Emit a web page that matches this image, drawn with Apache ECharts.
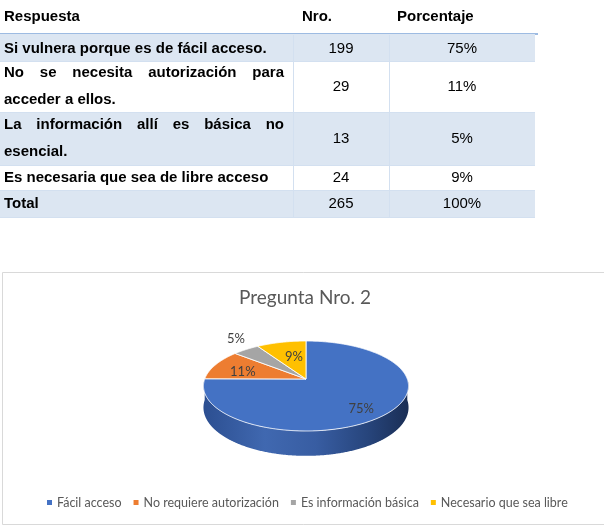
<!DOCTYPE html>
<html><head><meta charset="utf-8">
<script src="https://cdn.jsdelivr.net/npm/echarts/dist/echarts.min.js"></script>
<style>
body{margin:0;width:604px;height:531px;overflow:hidden;background:#fff;position:relative}
#chart{position:absolute;left:0;top:0;width:604px;height:531px}
#tbl{position:absolute;left:0;top:0;width:604px;height:230px;font-family:'Liberation Sans',Arial,sans-serif;font-size:15px;color:#000;z-index:2}
.row{position:absolute;left:0;width:535px;box-sizing:border-box}
.cell{position:absolute;top:0;height:100%;display:flex;align-items:center;box-sizing:border-box}
.c1{left:0;width:293px;padding:0 0 0 4px;font-weight:bold}
.c1 > div{width:280px;text-align:justify;text-align-last:left;line-height:27px}
.c2{left:293px;width:96px;justify-content:center}
.c3{left:389px;width:146px;justify-content:center}
.hd{position:absolute;top:0;height:31px;display:flex;align-items:center;font-weight:bold}
.vline{position:absolute;top:35px;width:1px;height:183px;background:#D3E0F0}
</style>
</head><body>
<div id="chart"></div>
<div id="tbl"></div>
<script>
// ---- data ----
const headers = ["Respuesta", "Nro.", "Porcentaje"];
const respuestas = ["Si vulnera porque es de fácil acceso.", "No se necesita autorización para acceder a ellos.", "La información allí es básica no esencial.", "Es necesaria que sea de libre acceso"];
const nros = [199, 29, 13, 24];
const porcentajes = ["75%", "11%", "5%", "9%"];
const totalLabel = "Total";
const totalNro = 265;
const totalPct = "100%";
const chartTitle = "Pregunta Nro. 2";
const legendNames = ["Fácil acceso", "No requiere autorización", "Es información básica", "Necesario que sea libre"];
const chartValues = [199, 29, 13, 24];

// ---- table (layout) ----
const rowTops = [34, 62, 113, 166, 191];
const rowHeights = [28, 51, 53, 25, 27];
const rowShift = [-0.5, -2.5, -2.5, -2.5, -2.5];
const rowBg = ['#DCE6F2', '#FFFFFF', '#DCE6F2', '#FFFFFF', '#DCE6F2'];
const tbl = document.getElementById('tbl');
let html = '';
html += '<div class="hd" style="left:4px">' + headers[0] + '</div>';
html += '<div class="hd" style="left:302px">' + headers[1] + '</div>';
html += '<div class="hd" style="left:397px">' + headers[2] + '</div>';
html += '<div style="position:absolute;left:0;top:33px;width:538px;height:2px;background:#9DBBE2"></div>';
const rows = respuestas.map((r, i) => [r, nros[i], porcentajes[i]]);
rows.push([totalLabel, totalNro, totalPct]);
rows.forEach((r, i) => {
  const t = 'style="transform:translateY(' + rowShift[i] + 'px)"';
  html += '<div class="row" style="top:' + rowTops[i] + 'px;height:' + rowHeights[i] + 'px;background:' + rowBg[i] + ';border-bottom:1px solid #D3E0F0">' +
    '<div class="cell c1"><div ' + t + '>' + r[0] + '</div></div>' +
    '<div class="cell c2"><div ' + t + '>' + r[1] + '</div></div>' +
    '<div class="cell c3"><div ' + t + '>' + r[2] + '</div></div></div>';
});
html += '<div class="vline" style="left:293px"></div><div class="vline" style="left:389px"></div>';
tbl.innerHTML = html;

// ---- chart ----
const colors = ['#4472C4', '#ED7D31', '#A5A5A5', '#FFC000'];
const P = {cx: 306, cy: 379, sx: 101.3, sy: 43.9, d: 0.1555, depth: 21};
const labelR = [0.79, 0.66, 1.33, 0.56];
const labelShift = [-6.3, 5.7, -4.2, -3];
const sum = chartValues.reduce((a, b) => a + b, 0);
const starts = [];
let acc = 0;
chartValues.forEach(v => { starts.push(acc); acc += v; });
const deg = Math.PI / 180;
function proj(th, r, drop) {
  const X = r * Math.cos(th), Y = r * Math.sin(th);
  const k = 1 / (1 + P.d * Y);
  return [P.cx + P.sx * X * k, P.cy - P.sy * Y * k + (drop || 0) * k];
}
function arc(lo, hi, drop) {
  const n = Math.max(2, Math.ceil((hi - lo) / (0.5 * deg)) + 1);
  const pts = [];
  for (let j = 0; j < n; j++) pts.push(proj(lo + (hi - lo) * j / (n - 1), 1, drop));
  return pts;
}
const sideGrad = () => new echarts.graphic.LinearGradient(0, 0, 1, 0, [
  {offset: 0, color: '#2C4F91'}, {offset: 0.3, color: '#4068B0'}, {offset: 0.55, color: '#385DA2'},
  {offset: 0.8, color: '#27457C'}, {offset: 1, color: '#1A2E55'}]);

function renderItem(params, api) {
  const i = params.dataIndex;
  const v = api.value(0);
  const a1 = 90 * deg - starts[i] / sum * 2 * Math.PI;
  const a0 = a1 - v / sum * 2 * Math.PI;
  const children = [];
  for (const k of [-1, 0, 1]) {
    const lo = Math.max(a0, -Math.PI + 2 * Math.PI * k), hi = Math.min(a1, 2 * Math.PI * k);
    if (hi > lo) {
      const top = arc(lo, hi, 0);
      const bot = arc(lo, hi, P.depth).reverse();
      children.push({type: 'polygon', shape: {points: top.concat(bot)},
        style: {fill: i === 0 ? sideGrad() : colors[i], stroke: null}, z2: 1});
    }
  }
  const pts = [proj(0, 0, 0)].concat(arc(a0, a1, 0));
  children.push({type: 'polygon', shape: {points: pts},
    style: {fill: colors[i], stroke: 'rgba(255,255,255,0.85)', lineWidth: 1, lineJoin: 'round'}, z2: 2});
  const mid = (a0 + a1) / 2 + labelShift[i] * deg;
  const lp = proj(mid, labelR[i], 0);
  children.push({type: 'text', x: lp[0], y: lp[1], z2: 5,
    style: {text: Math.round(v / sum * 100) + '%', fill: '#404040', font: '13px Lato', align: 'center', verticalAlign: 'middle'}});
  return {type: 'group', children};
}

const chart = echarts.init(document.getElementById('chart'), null, {renderer: 'canvas'});
chart.setOption({
  animation: false,
  color: colors,
  title: {text: chartTitle, left: 300, top: 283, textAlign: 'center',
    textStyle: {fontFamily: 'Lato', fontSize: 19, fontWeight: 'normal', color: '#595959'}},
  graphic: [{type: 'rect', z: -10, shape: {x: 2.5, y: 272.5, width: 620, height: 252},
    style: {fill: '#fff', stroke: '#D9D9D9', lineWidth: 1}}],
  legend: {left: 42, top: 491, icon: 'rect', itemWidth: 5, itemHeight: 5, itemGap: 12,
    data: legendNames,
    textStyle: {fontFamily: 'Lato', fontSize: 12.5, color: '#595959'}},
  series: [
    {type: 'custom', name: 'pie3d', coordinateSystem: 'none', renderItem: renderItem,
      data: chartValues.map(v => [v]), silent: true},
    {type: 'pie', name: 'leyenda', center: [-100, -100], radius: [0, 1], silent: true,
      label: {show: false}, labelLine: {show: false},
      data: legendNames.map((n, i) => ({name: n, value: chartValues[i], itemStyle: {color: colors[i]}}))}
  ]
});
</script>
</body></html>
